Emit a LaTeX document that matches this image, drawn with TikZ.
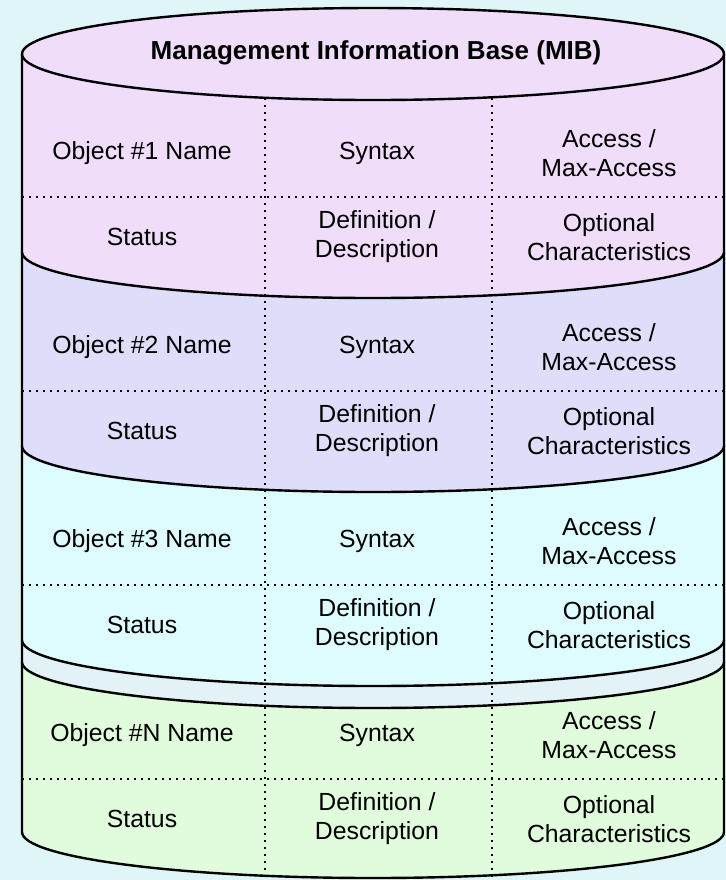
\documentclass[tikz,border=0pt]{standalone}
\usepackage{fontspec}
\setmainfont{Liberation Sans}
\usepackage{tikz}

\definecolor{bgcyan}{HTML}{E0F5F8}
\definecolor{mibpink}{HTML}{EFDDFA}
\definecolor{miblav}{HTML}{DEDEFA}
\definecolor{mibcyan}{HTML}{DEFCFE}
\definecolor{mibband}{HTML}{E2F2F6}
\definecolor{mibgreen}{HTML}{E0FCDC}

\tikzset{
  cell/.style={align=center, font=\fontsize{12.4}{14.5}\selectfont},
  rim/.style={line width=1.2pt},
  divider/.style={line width=0.8pt, dash pattern=on 0.9pt off 2.6pt},
  lowarc/.style={start angle=180, end angle=360, x radius=175.5pt, y radius=23pt}
}

\begin{document}
\begin{tikzpicture}[x=0.5pt, y=-0.5pt]
\fill[bgcyan] (0,0) rectangle (726,880);
\useasboundingbox (0,0) rectangle (726,880);

% stacked slices, lowest first
\filldraw[rim, fill=mibgreen] (22,662) -- (22,832) arc[lowarc] -- (724,662);
\filldraw[rim, fill=mibband] (22,640) -- (22,662) arc[lowarc] -- (724,640);
\filldraw[rim, fill=mibcyan] (22,446) -- (22,640) arc[lowarc] -- (724,446);
\filldraw[rim, fill=miblav] (22,252) -- (22,446) arc[lowarc] -- (724,252);
\filldraw[rim, fill=mibpink] (22,54) -- (22,252) arc[lowarc] -- (724,54);
\filldraw[rim, fill=mibpink] (373,54) ellipse [x radius=175.5pt, y radius=23pt];

% dotted grid
\draw[divider] (265,98) -- (265,880);
\draw[divider] (492,98) -- (492,880);
\draw[divider] (22,197) -- (724,197);
\draw[divider] (22,391) -- (724,391);
\draw[divider] (22,585) -- (724,585);
\draw[divider] (22,779) -- (724,779);

\node[cell, font=\fontsize{13}{14.5}\selectfont\bfseries] (title) at (376,53) {Management Information Base (MIB)};

\node[cell] (name1) at (142,153) {Object \#1 Name};
\node[cell] (syntax1) at (377,153) {Syntax};
\node[cell] (access1) at (609,153) {Access /\\Max-Access};
\node[cell] (status1) at (142,237) {Status};
\node[cell] (descr1) at (377,237) {Definition /\\Description};
\node[cell] (opt1) at (609,237) {Optional\\Characteristics};

\node[cell] (name2) at (142,347) {Object \#2 Name};
\node[cell] (syntax2) at (377,347) {Syntax};
\node[cell] (access2) at (609,347) {Access /\\Max-Access};
\node[cell] (status2) at (142,431) {Status};
\node[cell] (descr2) at (377,431) {Definition /\\Description};
\node[cell] (opt2) at (609,431) {Optional\\Characteristics};

\node[cell] (name3) at (142,541) {Object \#3 Name};
\node[cell] (syntax3) at (377,541) {Syntax};
\node[cell] (access3) at (609,541) {Access /\\Max-Access};
\node[cell] (status3) at (142,625) {Status};
\node[cell] (descr3) at (377,625) {Definition /\\Description};
\node[cell] (opt3) at (609,625) {Optional\\Characteristics};

\node[cell] (nameN) at (142,735) {Object \#N Name};
\node[cell] (syntaxN) at (377,735) {Syntax};
\node[cell] (accessN) at (609,735) {Access /\\Max-Access};
\node[cell] (statusN) at (142,819) {Status};
\node[cell] (descrN) at (377,819) {Definition /\\Description};
\node[cell] (optN) at (609,819) {Optional\\Characteristics};

\end{tikzpicture}
\end{document}
